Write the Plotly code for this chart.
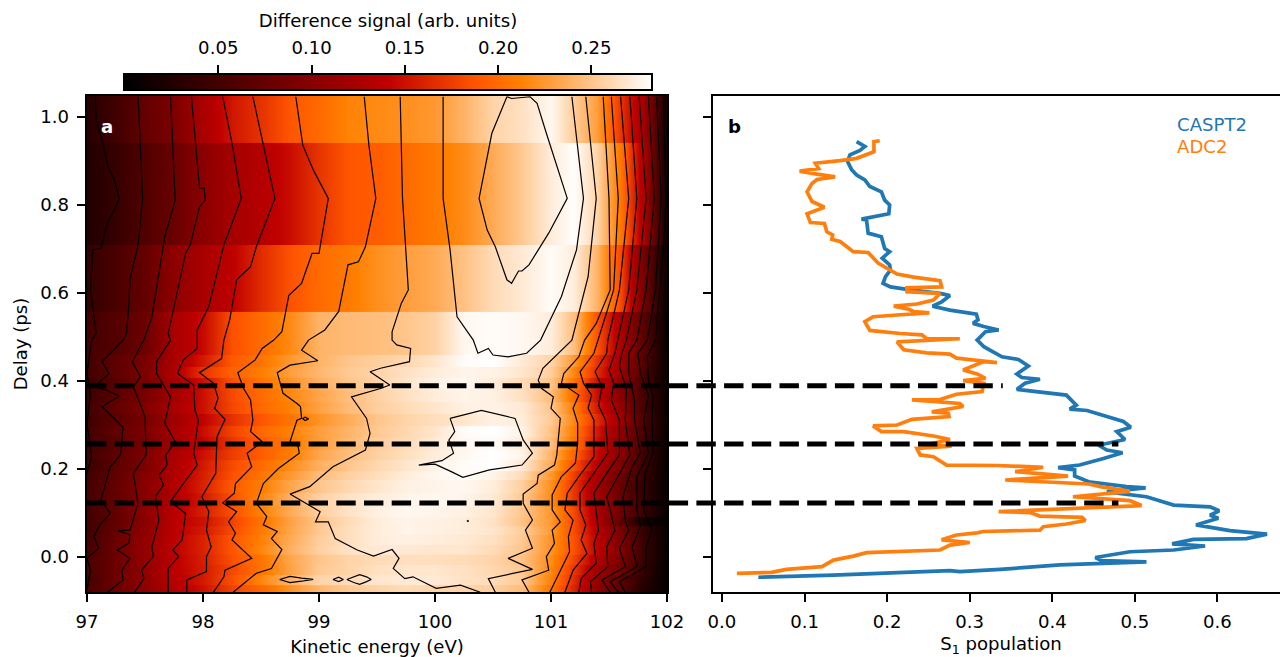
import numpy as np
import plotly.graph_objects as go

# ---------- heat map data ----------
energy_nodes = [97, 97.25, 97.5, 97.75, 98, 98.25, 98.5, 98.75, 99, 99.25, 99.5, 99.75, 100, 100.25,
                100.5, 100.75, 101, 101.2, 101.4, 101.6, 101.8, 102]
delay_edges = [1.05, .941, .709, .557, .459, .432, .407, .380, .352, .325, .298, .273, .243, .220, .195,
               .175, .145, .114, .091, .070, .050, .027, .005, -.018, -.041, -.064, -.08]
# signal in thousandths of an arbitrary unit, one row per delay bin
signal_milli = [
    [28, 48, 74, 92, 125, 153, 169, 188, 199, 213, 217, 220, 225, 240, 258, 265, 278, 254, 228, 170, 118, 10],
    [25, 40, 60, 78, 103, 122, 133, 148, 170, 188, 192, 200, 208, 218, 235, 252, 272, 281, 258, 205, 125, 8],
    [38, 55, 74, 105, 125, 140, 165, 186, 200, 208, 220, 228, 235, 248, 262, 270, 280, 272, 240, 180, 85, 4],
    [50, 62, 80, 125, 146, 185, 200, 217, 240, 244, 246, 250, 257, 278, 280, 278, 272, 246, 187, 125, 65, 3],
    [50, 70, 90, 125, 155, 190, 205, 225, 240, 250, 255, 260, 268, 280, 282, 270, 258, 225, 170, 120, 60, 5],
    [48, 70, 92, 130, 170, 195, 210, 228, 242, 252, 258, 265, 272, 276, 275, 268, 255, 215, 165, 115, 55, 5],
    [42, 66, 88, 122, 150, 185, 205, 222, 238, 250, 258, 268, 275, 278, 272, 262, 250, 205, 150, 105, 50, 4],
    [45, 68, 90, 120, 150, 182, 200, 215, 232, 246, 256, 265, 272, 276, 274, 265, 245, 200, 148, 100, 50, 4],
    [48, 72, 95, 125, 150, 180, 198, 212, 230, 244, 255, 262, 268, 274, 275, 270, 250, 210, 155, 108, 50, 4],
    [46, 68, 88, 118, 142, 168, 188, 205, 222, 236, 250, 258, 264, 268, 274, 272, 252, 215, 165, 115, 55, 5],
    [50, 72, 92, 122, 148, 178, 198, 212, 228, 240, 252, 260, 268, 280, 282, 275, 248, 210, 155, 105, 50, 4],
    [46, 66, 88, 118, 142, 172, 192, 208, 228, 242, 254, 262, 270, 278, 280, 272, 246, 205, 150, 100, 48, 4],
    [48, 70, 92, 125, 150, 175, 192, 210, 232, 246, 256, 264, 272, 278, 282, 276, 240, 195, 145, 100, 45, 3],
    [45, 68, 92, 128, 155, 182, 200, 218, 238, 250, 260, 268, 275, 280, 282, 270, 235, 185, 135, 90, 42, 3],
    [48, 72, 98, 130, 158, 185, 205, 225, 245, 256, 264, 272, 278, 280, 276, 262, 225, 175, 125, 80, 38, 3],
    [50, 75, 100, 132, 160, 190, 210, 232, 250, 260, 268, 274, 276, 278, 272, 255, 220, 170, 120, 75, 35, 3],
    [52, 72, 100, 130, 155, 185, 215, 238, 256, 266, 272, 276, 278, 276, 270, 252, 218, 170, 120, 78, 38, 3],
    [50, 72, 105, 135, 158, 185, 212, 235, 255, 266, 274, 278, 276, 274, 268, 250, 225, 180, 125, 80, 40, 3],
    [48, 72, 102, 138, 150, 178, 205, 230, 250, 262, 272, 276, 274, 272, 266, 248, 225, 182, 128, 70, 12, 2],
    [48, 75, 105, 138, 155, 182, 208, 232, 252, 264, 272, 276, 274, 272, 268, 254, 226, 182, 135, 88, 38, 3],
    [50, 78, 108, 140, 160, 188, 212, 235, 255, 264, 272, 274, 272, 270, 265, 252, 222, 185, 138, 92, 40, 3],
    [52, 80, 110, 140, 160, 188, 215, 238, 256, 266, 270, 270, 268, 268, 262, 250, 222, 185, 140, 95, 42, 3],
    [55, 80, 108, 138, 158, 185, 205, 232, 250, 258, 262, 264, 264, 262, 258, 248, 218, 178, 130, 90, 40, 3],
    [55, 80, 108, 138, 156, 180, 205, 230, 252, 258, 265, 268, 268, 265, 260, 252, 215, 170, 120, 85, 35, 2],
    [50, 80, 108, 135, 155, 185, 215, 240, 258, 262, 268, 270, 270, 266, 262, 252, 212, 165, 110, 70, 30, 2],
    [55, 78, 105, 132, 150, 178, 198, 222, 242, 252, 258, 262, 258, 258, 255, 245, 205, 160, 105, 65, 25, 1],
]

# ---------- contour lines: (kinetic energy, delay) ----------
line_z = [(97.07,1.046),(97.08,.993),(97.13,.948),(97.18,.887),(97.23,.861),(97.28,.815),(97.23,.785),(97.18,.762),
          (97.12,.702),(97.05,.698),(97.03,.607),(97.08,.508),(97.04,.493),(97.0,.417),(97.03,.368),(97.0,.304),
          (97.04,.228),(97.0,.19)]
line_a = [(97.44,1.046),(97.46,.910),(97.48,.815),(97.44,.709),(97.37,.630),(97.36,.569),(97.34,.508),(97.31,.493),
          (97.23,.470),(97.13,.444),(97.19,.417),(97.11,.398),(97.07,.387),(97.16,.380),(97.28,.366),(97.13,.342),
          (97.23,.315),(97.31,.295),(97.30,.266),(97.29,.232),(97.20,.205),(97.12,.130),(97.20,.099),(97.11,.073),
          (97.06,.046),(97.10,.020),(97.00,-.003),(97.03,-.03),(97.0,-.075)]
line_b = [(97.72,1.046),(97.76,.811),(97.72,.773),(97.67,.728),(97.56,.546),(97.49,.493),(97.39,.444),(97.46,.410),
          (97.40,.387),(97.50,.319),(97.51,.232),(97.40,.190),(97.44,.122),(97.37,.061),(97.27,.060),(97.37,.050),
          (97.36,.031),(97.26,.016),(97.37,-.003),(97.30,-.030),(97.31,-.052),(97.18,-.08)]
line_c = [(97.90,1.046),(97.95,.910),(97.97,.838),(98.01,.838),(98.02,.811),(97.97,.796),(97.89,.709),(97.85,.690),
          (97.70,.508),(97.72,.493),(97.60,.444),(97.60,.417),(97.72,.364),(97.67,.304),(97.76,.262),(97.68,.232),
          (97.69,.209),(97.62,.186),(97.66,.164),(97.59,.137),(97.62,.084),(97.56,.023),(97.57,.001),(97.47,-.03),
          (97.49,-.049),(97.41,-.08)]
line_d = [(98.17,1.046),(98.25,.940),(98.33,.815),(98.18,.709),(98.05,.569),(97.95,.516),(97.95,.474),(97.83,.448),
          (97.78,.417),(97.92,.391),(97.93,.334),(97.96,.311),(97.92,.236),(97.95,.209),(97.83,.167),(97.72,.126),
          (97.85,.099),(97.82,.039),(97.74,.016),(97.79,.001),(97.70,-.026),(97.70,-.08)]
line_e = [(98.43,1.046),(98.51,.948),(98.62,.815),(98.46,.705),(98.41,.660),(98.29,.630),(98.23,.539),(98.18,.493),
          (98.16,.451),(97.97,.419),(98.09,.395),(98.13,.361),(98.10,.338),(98.19,.313),(98.12,.273),(98.11,.190),
          (97.99,.137),(98.05,.103),(98.03,.061),(98.07,.023),(98.03,.001),(98.03,-.033),(97.86,-.052),(97.86,-.08)]
line_f = [(98.80,1.046),(98.86,.936),(98.95,.880),(99.08,.815),(99.0,.690),(98.94,.690),(98.85,.622),(98.74,.595),
          (98.68,.512),(98.61,.493),(98.51,.474),(98.45,.448),(98.30,.419),(98.35,.383),(98.41,.357),(98.43,.311),
          (98.41,.285),(98.51,.262),(98.38,.236),(98.42,.205),(98.28,.167),(98.27,.145),(98.17,.123),(98.29,.103),
          (98.22,.080),(98.28,.054),(98.25,.039),(98.42,-.003),(98.19,-.030),(98.18,-.045),(98.09,-.08)]
line_g = [(99.39,1.046),(99.43,.936),(99.49,.815),(99.40,.705),(99.34,.671),(99.25,.664),(99.17,.558),(99.05,.516),
          (98.91,.493),(98.85,.470),(98.99,.446),(98.75,.436),(98.64,.419),(98.69,.372),(98.81,.349),(98.84,.342),
          (98.85,.315),(98.81,.311),(98.75,.262),(98.82,.251),(98.83,.236),(98.65,.201),(98.52,.167),(98.46,.122),
          (98.55,.092),(98.52,.073),(98.64,.058),(98.59,.042),(98.68,.017),(98.59,-.026),(98.46,-.037),(98.26,-.08)]
line_h = [(99.70,1.046),(99.72,.815),(99.77,.607),(99.71,.577),(99.63,.512),(99.63,.493),(99.67,.482),(99.79,.474),
          (99.78,.444),(99.53,.429),(99.44,.421),(99.53,.406),(99.61,.391),(99.53,.383),(99.28,.364),(99.41,.315),
          (99.44,.281),(99.40,.243),(99.12,.205),(98.92,.160),(98.75,.143),(99.01,.103),(98.97,.080),(99.08,.080),
          (99.14,.042),(99.33,.016),(99.47,.002),(99.63,.017),(99.69,-.003),(99.64,-.026),(99.74,-.049),(99.81,-.045),
          (100.01,-.071),(100.22,-.064),(100.39,-.08)]
line_i = [(100.07,1.046),(100.07,.815),(100.13,.698),(100.19,.546),(100.33,.493),(100.37,.463),(100.46,.474),
          (100.50,.459),(100.63,.455),(100.79,.463),(100.91,.493),(100.98,.531),(101.09,.592),(101.22,.698),
          (101.28,.815),(101.18,1.046)]
line_j = [(100.62,1.046),(100.49,.963),(100.38,.815),(100.45,.743),(100.52,.705),(100.62,.630),(100.66,.622),
          (100.72,.650),(100.75,.650),(100.81,.664),(100.98,.736),(101.14,.815),(100.96,.963),(100.88,1.031),
          (100.82,1.046),(100.66,1.042),(100.62,1.046)]
loop_mid = [(100.13,.315),(100.40,.333),(100.69,.315),(100.76,.266),(100.84,.236),(100.75,.209),(100.47,.198),
            (100.24,.181),(100.14,.194),(100.0,.211),(99.86,.209),(100.06,.219),(100.16,.236),(100.12,.266),
            (100.17,.285),(100.13,.315)]
line_k = [(101.30,1.046),(101.39,.815),(101.32,.637),(101.18,.493),(100.93,.429),(100.89,.402),(100.92,.383),
          (101.02,.364),(101.0,.338),(101.08,.315),(101.05,.232),(101.03,.209),(100.89,.186),(100.88,.167),
          (100.76,.143),(100.76,.122),(100.84,.084),(100.78,.061),(100.84,.020),(100.63,-.003),(100.84,-.028),
          (100.46,-.049),(100.52,-.08)]
line_l = [(101.45,1.046),(101.50,.815),(101.51,.607),(101.39,.531),(101.29,.493),(101.24,.455),(101.11,.417),
          (101.09,.395),(101.24,.368),(101.19,.338),(101.23,.304),(101.23,.258),(101.21,.213),(101.09,.183),
          (101.01,.141),(101.01,.107),(101.08,.080),(101.01,.061),(101.03,.031),(100.96,.001),(100.98,-.030),
          (100.75,-.052),(100.81,-.08)]
line_m = [(101.52,1.046),(101.58,.815),(101.54,.607),(101.41,.493),(101.37,.463),(101.25,.421),(101.28,.395),
          (101.35,.368),(101.32,.338),(101.37,.311),(101.37,.228),(101.24,.183),(101.14,.145),(101.12,.107),
          (101.19,.084),(101.15,.046),(101.16,.012),(100.99,-.08)]
line_n = [(101.60,1.046),(101.67,.815),(101.59,.607),(101.49,.493),(101.48,.463),(101.38,.421),(101.44,.387),
          (101.41,.345),(101.47,.311),(101.49,.236),(101.35,.183),(101.25,.145),(101.25,.107),(101.30,.073),
          (101.26,.039),(101.31,.008),(101.19,-.030),(101.12,-.08)]
line_o = [(101.68,1.046),(101.74,.815),(101.67,.607),(101.57,.493),(101.55,.463),(101.50,.425),(101.54,.395),
          (101.52,.357),(101.59,.311),(101.59,.232),(101.48,.190),(101.37,.145),(101.39,.107),(101.41,.061),
          (101.37,.031),(101.39,-.014),(101.26,-.049),(101.24,-.08)]
line_p = [(101.76,1.046),(101.82,.815),(101.74,.607),(101.65,.493),(101.61,.463),(101.59,.433),(101.65,.380),
          (101.64,.311),(101.68,.232),(101.58,.183),(101.48,.137),(101.51,.107),(101.55,.061),(101.48,.023),
          (101.49,-.022),(101.34,-.056),(101.35,-.08)]
line_q = [(101.84,1.046),(101.89,.815),(101.82,.607),(101.74,.493),(101.67,.463),(101.67,.417),(101.72,.357),
          (101.72,.311),(101.77,.236),(101.70,.205),(101.62,.137),(101.64,.084),(101.67,.061),(101.59,.020),
          (101.64,-.022),(101.44,-.052),(101.51,-.08)]
line_r = [(101.91,1.046),(101.95,.815),(101.90,.607),(101.83,.493),(101.75,.463),(101.77,.417),(101.84,.368),
          (101.80,.311),(101.84,.236),(101.74,.183),(101.74,.107),(101.77,.069),(101.70,.023),(101.74,-.022),
          (101.51,-.056),(101.58,-.08)]
line_s = [(101.97,1.046),(101.99,.815),(101.98,.743),(101.94,.607),(101.90,.493),(101.83,.455),(101.84,.402),
          (101.88,.364),(101.87,.304),(101.88,.236),(101.81,.190),(101.80,.107),(101.87,.061),(101.82,.023),
          (101.82,-.022),(101.59,-.056),(101.64,-.08)]
loop_dot = [(98.88,.318),(98.91,.314),(98.88,.310),(98.86,.314),(98.88,.318)]
loop_oval1 = [(98.66,-.051),(98.75,-.044),(98.85,-.048),(98.95,-.051),(98.85,-.055),(98.75,-.058),(98.66,-.051)]
loop_oval2 = [(99.12,-.051),(99.17,-.046),(99.21,-.051),(99.17,-.056),(99.12,-.051)]
loop_oval3 = [(99.24,-.051),(99.30,-.044),(99.35,-.040),(99.41,-.045),(99.45,-.051),(99.40,-.057),(99.35,-.062),
              (99.30,-.058),(99.24,-.051)]
loop_speck = [(100.275,.082),(100.285,.083),(100.285,.081),(100.275,.082)]
contour_lines = [line_z, line_a, line_b, line_c, line_d, line_e, line_f, line_g, line_h, line_i, line_j, loop_mid,
                 line_k, line_l, line_m, line_n, line_o, line_p, line_q, line_r, line_s,
                 loop_dot, loop_oval1, loop_oval2, loop_oval3, loop_speck]

# ---------- population curves: (population, delay) ----------
caspt2 = [(.163,.944),(.173,.933),(.167,.924),(.155,.914),(.152,.899),(.157,.880),(.163,.868),(.173,.857),(.179,.842),
          (.193,.830),(.197,.811),(.203,.800),(.202,.780),(.169,.768),(.175,.766),(.177,.736),(.193,.728),(.197,.701),
          (.203,.694),(.194,.679),(.203,.664),(.204,.652),(.198,.637),(.195,.622),(.204,.614),(.228,.607),(.264,.599),
          (.276,.594),(.266,.580),(.255,.570),(.276,.561),(.308,.552),(.310,.539),(.304,.531),(.317,.524),(.335,.516),
          (.319,.512),(.309,.493),(.317,.478),(.339,.455),(.359,.449),(.371,.434),(.357,.416),(.363,.408),(.385,.404),
          (.367,.395),(.357,.381),(.417,.368),(.429,.345),(.421,.336),(.442,.333),(.466,.319),(.486,.308),(.495,.295),
          (.478,.285),(.488,.267),(.456,.254),(.466,.243),(.485,.237),(.462,.224),(.433,.209),(.407,.203),(.427,.198),
          (.427,.184),(.444,.171),(.490,.160),(.513,.157),(.466,.148),(.514,.137),(.547,.118),(.591,.114),(.602,.105),
          (.591,.095),(.601,.088),(.574,.073),(.615,.060),(.660,.052),(.635,.042),(.571,.040),(.545,.030),(.585,.025),
          (.547,.016),(.494,.012),(.452,-.001),(.460,-.008),(.514,-.011),(.409,-.018),(.337,-.028),(.288,-.033),
          (.276,-.031),(.216,-.036),(.135,-.041),(.044,-.046)]
adc2 = [(.191,.946),(.184,.944),(.184,.921),(.163,.906),(.143,.901),(.113,.895),(.117,.883),(.094,.877),(.115,.870),
        (.137,.864),(.115,.858),(.109,.849),(.103,.830),(.109,.808),(.124,.795),(.103,.780),(.107,.760),(.124,.758),
        (.127,.739),(.134,.732),(.133,.722),(.143,.717),(.159,.694),(.177,.692),(.189,.668),(.197,.660),(.212,.643),
        (.232,.636),(.264,.628),(.266,.614),(.224,.612),(.224,.603),(.248,.601),(.264,.599),(.256,.584),(.236,.575),
        (.208,.570),(.226,.563),(.232,.558),(.251,.555),(.212,.550),(.183,.546),(.173,.535),(.179,.515),(.216,.508),
        (.242,.505),(.248,.496),(.288,.496),(.212,.489),(.220,.471),(.248,.464),(.276,.461),(.284,.452),(.333,.442),
        (.317,.444),(.292,.425),(.309,.416),(.319,.406),(.292,.401),(.317,.395),(.315,.376),(.284,.370),(.264,.358),
        (.230,.357),(.288,.349),(.292,.342),(.254,.330),(.274,.327),(.275,.319),(.230,.313),(.212,.300),(.183,.298),
        (.193,.285),(.220,.285),(.256,.275),(.276,.267),(.248,.255),(.278,.252),(.236,.247),(.240,.232),(.256,.228),
        (.272,.209),(.333,.208),(.389,.204),(.355,.194),(.381,.190),(.419,.184),(.343,.175),(.401,.169),(.444,.166),
        (.458,.160),(.494,.149),(.425,.137),(.494,.128),(.508,.117),(.335,.103),(.373,.101),(.385,.093),(.436,.090),
        (.440,.083),(.417,.075),(.389,.069),(.385,.061),(.316,.058),(.309,.055),(.284,.050),(.266,.039),(.300,.033),
        (.276,.027),(.264,.016),(.175,.010),(.159,.002),(.135,-.007),(.121,-.022),(.078,-.028),(.060,-.035),(.018,-.037)]

# dashed guides: delay, and the population where they stop in panel b
guide_delays = [.389, .257, .123]
guide_ends = [.340, .48, .48]

scale_min, scale_max = 0, .282
scale_ticks = [.05, .10, .15, .20, .25]

gist_heat = [[0, "rgb(0,0,0)"], [.5, "rgb(191,0,0)"], [2/3, "rgb(255,85,0)"], [.75, "rgb(255,128,0)"], [1, "rgb(255,255,255)"]]
FONT = "DejaVu Sans"
FS = 18.1

fig = go.Figure()

signal = np.array(signal_milli) / 1000
for i, row in enumerate(signal):
    hi, lo = delay_edges[i], delay_edges[i + 1] - .004
    h = hi - lo
    fig.add_trace(go.Heatmap(x=energy_nodes, y=[lo + h / 4, hi - h / 4], z=[row, row], coloraxis="coloraxis",
                             zsmooth="best", hoverinfo="skip", showlegend=False))

for ln in contour_lines:
    e, t = zip(*ln)
    fig.add_trace(go.Scatter(x=e, y=t, mode="lines", line=dict(color="black", width=1.2), hoverinfo="skip", showlegend=False))

for curve, col, name in ((caspt2, "#1f77b4", "CASPT2"), (adc2, "#ff7f0e", "ADC2")):
    p, t = zip(*curve)
    fig.add_trace(go.Scatter(x=p, y=t, mode="lines", name=name, line=dict(color=col, width=3.7), xaxis="x2", yaxis="y2", showlegend=False))

# colour bar drawn as its own small axes
fig.add_trace(go.Heatmap(x=[scale_min, scale_max], y=[0, 1], z=[[scale_min, scale_max], [scale_min, scale_max]],
                         coloraxis="coloraxis", zsmooth="best", xaxis="x3", yaxis="y3", hoverinfo="skip", showlegend=False))

axis_common = dict(showgrid=False, zeroline=False, showline=True, linecolor="black", linewidth=1.7, ticks="outside",
                   ticklen=8.5, tickwidth=1.5, tickcolor="black", tickfont=dict(family=FONT, size=FS, color="black"), automargin=False)
y_range = [-.0795, 1.0477]
pop_range = [-.0109, .6866]
main_dom = [0, 496 / 592]
W = 1202
b_dom = [626 / W, 1]


def pop_to_paper(p):
    return b_dom[0] + (p - pop_range[0]) / (pop_range[1] - pop_range[0]) * (b_dom[1] - b_dom[0])


guide_shapes = [dict(type="line", xref="paper", yref="y", x0=0, x1=pop_to_paper(e), y0=d, y1=d, layer="above",
                     line=dict(color="black", width=5, dash="19.4px,8.3px"))
                for d, e in zip(guide_delays, guide_ends)]

fig.update_layout(
    width=1289, height=657, margin=dict(l=87, r=0, t=0, b=65, pad=0), autosize=False,
    paper_bgcolor="white", plot_bgcolor="white", font=dict(family=FONT, size=FS, color="black"),
    coloraxis=dict(cmin=scale_min, cmax=scale_max, colorscale=gist_heat, showscale=False),
    shapes=guide_shapes,
    xaxis=dict(domain=[0, 580/W], range=[97, 102], tickvals=[97, 98, 99, 100, 101, 102], mirror=True, ticklabelstandoff=4,
               title=dict(text="Kinetic energy (eV)", standoff=10, font=dict(family=FONT, size=FS)), **axis_common),
    yaxis=dict(domain=main_dom, range=y_range, tickvals=[0, .2, .4, .6, .8, 1.0], tickformat=".1f", mirror=True, ticklabelstandoff=4,
               title=dict(text="Delay (ps)", standoff=8, font=dict(family=FONT, size=FS)), **axis_common),
    xaxis2=dict(domain=b_dom, range=pop_range, anchor="y2", tickvals=[0, .1, .2, .3, .4, .5, .6], tickformat=".1f", mirror=True, ticklabelstandoff=4,
                title=dict(text="S<sub>1</sub> population", standoff=10, font=dict(family=FONT, size=FS)), **axis_common),
    yaxis2=dict(domain=main_dom, range=y_range, anchor="x2", tickvals=[0, .2, .4, .6, .8, 1.0], showticklabels=False, **axis_common),
    xaxis3=dict(domain=[38/W, 564/W], range=[scale_min, scale_max], anchor="y3", side="top", tickvals=scale_ticks, tickformat=".2f", mirror=True, ticklabelstandoff=3,
                title=dict(text="Difference signal (arb. units)", standoff=5, font=dict(family=FONT, size=FS)), **axis_common),
    yaxis3=dict(domain=[(592-89)/592, (592-75)/592], range=[0, 1], anchor="x3", showgrid=False, zeroline=False, showline=True, mirror=True,
                linecolor="black", linewidth=1.7, ticks="", showticklabels=False, automargin=False),
    annotations=[
        dict(text="<b>a</b>", x=97.175, y=.978, xref="x", yref="y", showarrow=False, font=dict(family=FONT, size=FS, color="white")),
        dict(text="<b>b</b>", x=.015, y=.978, xref="x2", yref="y2", showarrow=False, font=dict(family=FONT, size=FS, color="black")),
        dict(text="CASPT2", x=.549, y=.984, xref="x2", yref="y2", xanchor="left", showarrow=False, font=dict(family=FONT, size=FS, color="#1f77b4")),
        dict(text="ADC2", x=.549, y=.934, xref="x2", yref="y2", xanchor="left", showarrow=False, font=dict(family=FONT, size=FS, color="#ff7f0e")),
    ],
)

fig.write_html("out.html", config=dict(displayModeBar=False),
               post_script="document.body.style.margin='0';document.body.style.overflow='hidden';")
